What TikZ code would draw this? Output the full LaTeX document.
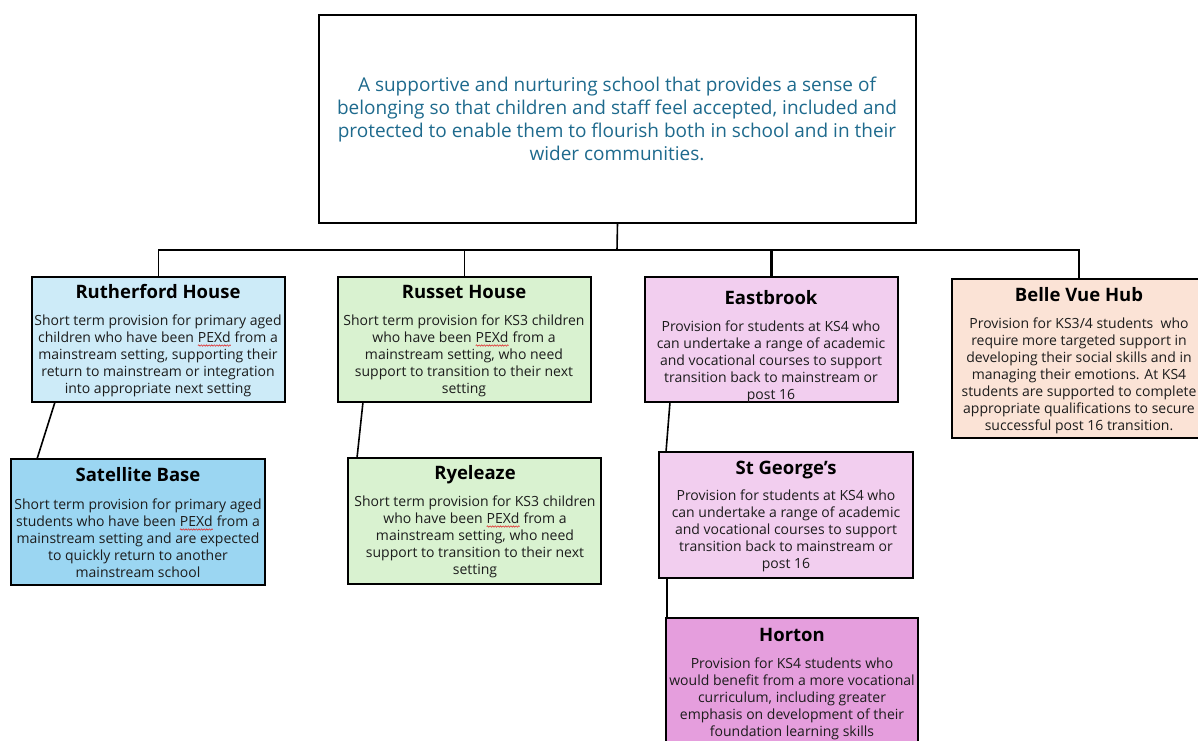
\documentclass[tikz,border=0pt]{standalone}
\usepackage{fontspec}
\setmainfont{Open Sans}
\usetikzlibrary{positioning,decorations.pathmorphing}
\definecolor{topblue}{HTML}{1E6A8D}
\definecolor{ruthc}{HTML}{CDEBF8}
\definecolor{satc}{HTML}{9BD6F2}
\definecolor{greenc}{HTML}{D9F2D0}
\definecolor{pinkc}{HTML}{F2CEEF}
\definecolor{hortc}{HTML}{E59EDD}
\definecolor{peachc}{HTML}{FBE3D6}
\definecolor{bodyc}{HTML}{1C1C1C}
\definecolor{spellred}{HTML}{E03030}
\newcommand{\spellmark}[1]{\tikz[baseline=(w.base)]{\node[inner sep=0pt,outer sep=0pt,anchor=base] (w) {#1};
  \draw[spellred, line width=0.6pt, decorate, decoration={snake, amplitude=0.7pt, segment length=2.6pt}] ([yshift=-2.6pt]w.base west) -- ([yshift=-2.6pt]w.base east);}}
\tikzset{
  unitbox/.style={draw=black, line width=1.7pt, anchor=north west, inner sep=0pt, outer sep=0pt},
  ttl/.style={font=\fontsize{18.5}{20}\selectfont\bfseries, anchor=base, inner sep=0pt},
  bdy/.style={font=\fontsize{14}{17}\selectfont, align=center, anchor=north, inner sep=0pt, text=bodyc},
  conn/.style={draw=black, line width=1.6pt},
}
\begin{document}
\begin{tikzpicture}[x=1pt,y=-1pt]
\useasboundingbox (0,0) rectangle (1198,740);
\clip (0,0) rectangle (1198,740);
% top box
\node[unitbox, minimum width=597pt, minimum height=208pt] (top) at (319,15) {};
\node[font=\fontsize{19}{23}\selectfont, align=center, text=topblue, inner sep=0pt] (toptext) at (617,119)
 {A supportive and nurturing school that provides a sense of\\
  belonging so that children and staff feel accepted, included and\\
  protected to enable them to flourish both in school and in their\\
  wider communities.};
% boxes
\node[unitbox, fill=ruthc, minimum width=253pt, minimum height=125pt] (ruth) at (32,277) {};
\node[unitbox, fill=satc, minimum width=254pt, minimum height=126pt] (sat) at (11,459) {};
\node[unitbox, fill=greenc, minimum width=253pt, minimum height=125pt] (russ) at (338,277) {};
\node[unitbox, fill=greenc, minimum width=253pt, minimum height=126pt] (rye) at (348,458) {};
\node[unitbox, fill=pinkc, minimum width=253pt, minimum height=125pt] (east) at (645,277) {};
\node[unitbox, fill=pinkc, minimum width=254pt, minimum height=126pt] (stg) at (659,452) {};
\node[unitbox, fill=hortc, minimum width=252pt, minimum height=140pt] (hort) at (666,618) {};
\node[unitbox, fill=peachc, minimum width=254pt, minimum height=159pt] (belle) at (952,279) {};
% titles
\node[ttl] (ruthT) at (158,298) {Rutherford House};
\node[ttl] (satT) at (138,481) {Satellite Base};
\node[ttl] (russT) at (464,298) {Russet House};
\node[ttl] (ryeT) at (475,479) {Ryeleaze};
\node[ttl] (eastT) at (771,304) {Eastbrook};
\node[ttl] (stgT) at (786,474) {St George’s};
\node[ttl] (hortT) at (792,641) {Horton};
\node[ttl] (belleT) at (1079,301) {Belle Vue Hub};
% bodies
\node[bdy] (ruthB) at (158,315) {Short term provision for primary aged\\children who have been \spellmark{PEXd} from a\\mainstream setting, supporting their\\return to mainstream or integration\\into appropriate next setting};
\node[bdy] (satB) at (138,499) {Short term provision for primary aged\\students who have been \spellmark{PEXd} from a\\mainstream setting and are expected\\to quickly return to another\\mainstream school};
\node[bdy] (russB) at (464,315) {Short term provision for KS3 children\\who have been \spellmark{PEXd} from a\\mainstream setting, who need\\support to transition to their next\\setting};
\node[bdy] (ryeB) at (475,496) {Short term provision for KS3 children\\who have been \spellmark{PEXd} from a\\mainstream setting, who need\\support to transition to their next\\setting};
\node[bdy] (eastB) at (771,321) {Provision for students at KS4 who\\can undertake a range of academic\\and vocational courses to support\\transition back to mainstream or\\post 16};
\node[bdy] (stgB) at (786,490) {Provision for students at KS4 who\\can undertake a range of academic\\and vocational courses to support\\transition back to mainstream or\\post 16};
\node[bdy] (hortB) at (792,658) {Provision for KS4 students who\\would benefit from a more vocational\\curriculum, including greater\\emphasis on development of their\\foundation learning skills};
\node[bdy] (belleB) at (1079,318) {Provision for KS3/4 students\ \ who\\require more targeted support in\\developing their social skills and in\\managing their emotions. At KS4\\students are supported to complete\\appropriate qualifications to secure\\successful post 16 transition.};
% connectors
\coordinate (bus) at (617,250);
\draw[conn] (top.south) -- (bus);
\draw[conn] (bus) -| (ruth.north);
\draw[conn] (bus) -| (russ.north);
\draw[conn] (bus) -| (belle.north);
\draw[conn, line width=2.6pt] (bus) -| (east.north);
\draw[conn] ([xshift=23pt]ruth.south west) -- ([xshift=26pt]sat.north west);
\draw[conn] ([xshift=25pt]russ.south west) -- ([xshift=9pt]rye.north west);
\draw[conn] ([xshift=25pt]east.south west) -- ([xshift=7pt]stg.north west);
\draw[conn] ([xshift=8pt]stg.south west) -- ([xshift=1pt]hort.north west);
\end{tikzpicture}
\end{document}
